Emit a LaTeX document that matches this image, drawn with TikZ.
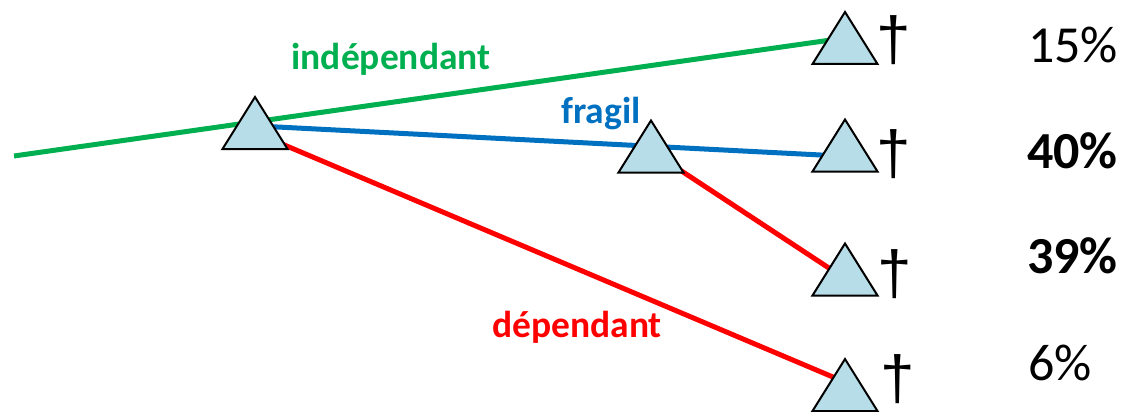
\documentclass[tikz,border=0pt]{standalone}
\usepackage{fontspec}
\setmainfont{Carlito}
\newfontfamily\dagfont{Liberation Sans}
\definecolor{lgreen}{HTML}{00B050}
\definecolor{lblue}{HTML}{0070C0}
\definecolor{lred}{HTML}{FF0000}
\definecolor{trifill}{HTML}{B7DEE8}
\begin{document}
\begin{tikzpicture}[x=1pt,y=-1pt,
  branch/.style={line width=5pt},
  tri/.style={draw=black,line width=2pt,fill=trifill,line join=miter},
  lbl/.style={font=\fontsize{37.5}{44}\selectfont\bfseries,anchor=base,inner sep=0},
  pct/.style={font=\fontsize{52}{60}\selectfont,anchor=base west,inner sep=0},
  pctb/.style={pct,font=\fontsize{52}{60}\selectfont\bfseries},
  dag/.style={font=\dagfont\fontsize{62}{70}\selectfont,inner sep=0},
  pics/trishape/.style={code={\draw[tri] (-32.5,26) -- (0,-26) -- (32.5,26) -- cycle;}}]
\useasboundingbox (0,0) rectangle (1122,412);
% coordinates
\coordinate (g0) at (14,156);
\coordinate (t1) at (255,123);
\coordinate (t2) at (651,146.5);
\coordinate (t3) at (845,38);
\coordinate (t4) at (845,145.5);
\coordinate (t5) at (845,269.5);
\coordinate (t6) at (845,385);
\coordinate (b1) at (258,126);
\coordinate (b2) at (840,156);
\coordinate (r1) at (237,125);
\coordinate (r2) at (840,380);
\coordinate (s1) at (680,170);
\coordinate (s2) at (838,274);
% branches
\draw[branch,lgreen] (g0) -- (t3);
\draw[branch,lblue] (b1) -- (b2);
\draw[branch,lred] (r1) -- (r2);
\draw[branch,lred] (s1) -- (s2);
% triangles
\foreach \t in {t1,t2,t3,t4,t5,t6} \pic at (\t) {trishape};
% labels
\node[lbl,text=lgreen] (lind) at (391,70) {indépendant};
\node[lbl,text=lblue] (lfra) at (601,123) {fragil};
\node[lbl,text=lred] (ldep) at (577,337) {dépendant};
% daggers
\node[dag] (d3) at (894,40) {†};
\node[dag] (d4) at (894,154) {†};
\node[dag] (d5) at (895,274) {†};
\node[dag] (d6) at (898,379) {†};
% percentages
\node[pct] (p3) at (1028,63) {15\%};
\node[pctb] (p4) at (1027,168) {40\%};
\node[pctb] (p5) at (1027,273) {39\%};
\node[pct] (p6) at (1028,380) {6\%};
\end{tikzpicture}
\end{document}
